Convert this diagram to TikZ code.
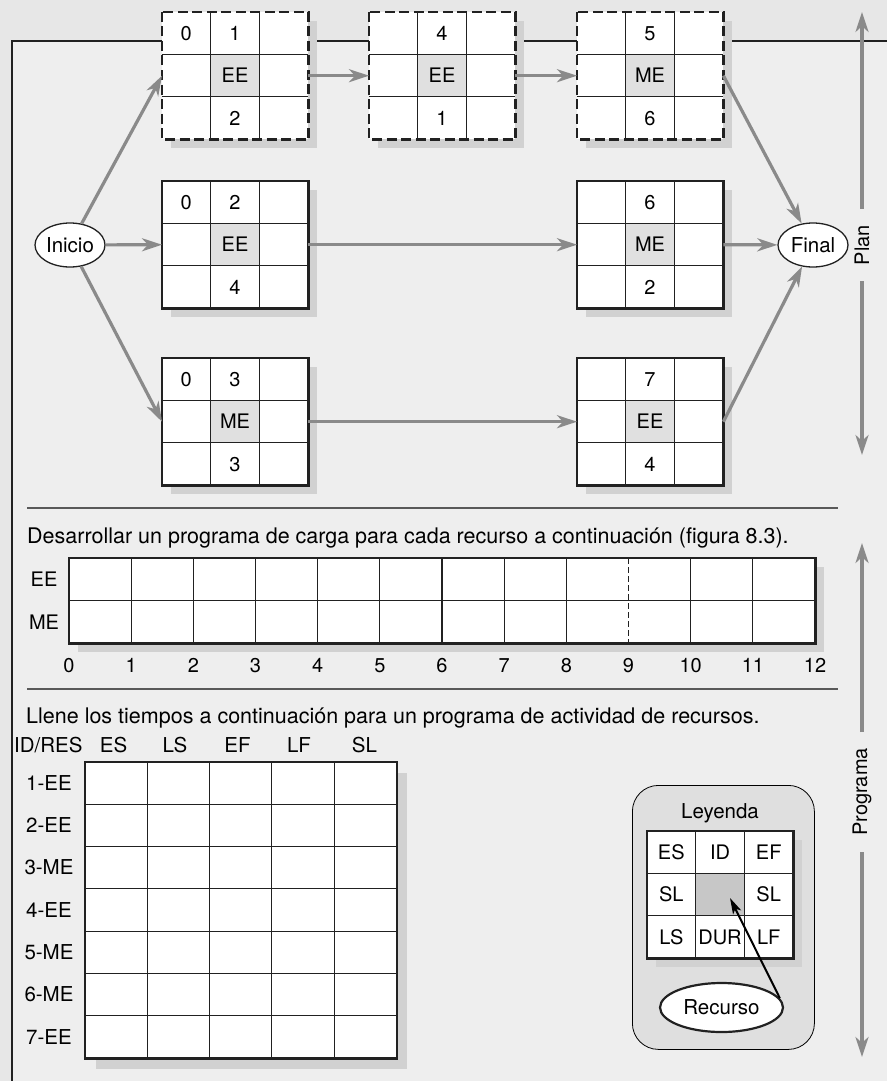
\documentclass[tikz,border=0pt]{standalone}
\usepackage{fontspec}
\setmainfont{TeX Gyre Heros}
\usetikzlibrary{arrows.meta,shapes.geometric}
\definecolor{bgout}{gray}{0.905}
\definecolor{bgin}{gray}{0.935}
\definecolor{arrc}{gray}{0.54}
\definecolor{shadc}{gray}{0.82}
\definecolor{cellc}{gray}{0.88}
\definecolor{legc}{gray}{0.875}
\definecolor{legmidc}{gray}{0.78}
\definecolor{inkc}{gray}{0.13}
\definecolor{sepc}{gray}{0.35}
\tikzset{
 lab/.style={font=\fontsize{20}{24}\selectfont, inner sep=0pt, text height=14.4pt, text depth=0pt},
 freetext/.style={font=\fontsize{21.5}{25}\selectfont, inner sep=0pt, anchor=base west},
 boxbg/.style={fill=white, minimum width=146, minimum height=127, inner sep=0pt, draw=none},
 gridl/.style={draw=inkc, line width=1.1},
 outsolid/.style={draw=inkc, line width=2.6},
 outdash/.style={draw=inkc, line width=2.6, dash pattern=on 10pt off 4.5pt},
 conn/.style={draw=arrc, line width=3.2, -{Stealth[length=20pt,width=13pt,inset=6pt]}},
 endnode/.style={ellipse, draw=inkc, fill=white, line width=1.3, minimum width=70, minimum height=44, inner sep=0pt, font=\fontsize{20.5}{24}\selectfont},
 sidelab/.style={rotate=90, inner xsep=16pt, inner ysep=2pt, font=\fontsize{20}{24}\selectfont},
}
% #1 name, #2 x, #3 y, #4 top-left, #5 top-mid, #6 centre, #7 bottom-mid, #8 border style
\newcommand\actbox[8]{%
 \fill[shadc] (#2+9,#3+9) rectangle (#2+155,#3+136);
 \node[boxbg, anchor=north west] (#1) at (#2,#3) {};
 \fill[cellc] (#2+48.7,#3+42.3) rectangle (#2+97.3,#3+84.7);
 \draw[gridl] (#2+48.7,#3) -- (#2+48.7,#3+127) (#2+97.3,#3) -- (#2+97.3,#3+127)
   (#2,#3+42.3) -- (#2+146,#3+42.3) (#2,#3+84.7) -- (#2+146,#3+84.7);
 \draw[#8] (#1.north west) rectangle (#1.south east);
 \node[lab] (#1tl) at (#2+24.3,#3+21.2) {#4};
 \node[lab] (#1tm) at (#2+73,#3+21.2) {#5};
 \node[lab] (#1c) at (#2+73,#3+63.5) {#6};
 \node[lab] (#1bm) at (#2+73,#3+105.8) {#7};
}
\begin{document}
\begin{tikzpicture}[x=1pt,y=-1pt]
\useasboundingbox (0,0) rectangle (887,1081);
\fill[bgout] (0,0) rectangle (887,1081);
\fill[bgin] (12,41) rectangle (887,1081);
\draw[inkc, line width=2.3] (12,1081) -- (12,41) -- (887,41);

% activity boxes
\actbox{ba}{162}{12}{0}{1}{EE}{2}{outdash}
\actbox{bb}{369}{12}{}{4}{EE}{1}{outdash}
\actbox{bc}{577}{12}{}{5}{ME}{6}{outdash}
\actbox{ma}{162}{181}{0}{2}{EE}{4}{outsolid}
\actbox{mb}{577}{181}{}{6}{ME}{2}{outsolid}
\actbox{la}{162}{358}{0}{3}{ME}{3}{outsolid}
\actbox{lb}{577}{358}{}{7}{EE}{4}{outsolid}

\node[endnode] (ini) at (70,245) {Inicio};
\node[endnode] (fin) at (813,245) {Final};

\draw[conn] (ini) -- (ba.west);
\draw[conn] (ini) -- (ma.west);
\draw[conn] (ini) -- (la.west);
\draw[conn] (ba.east) -- (bb.west);
\draw[conn] (bb.east) -- (bc.west);
\draw[conn] (ma.east) -- (mb.west);
\draw[conn] (la.east) -- (lb.west);
\draw[conn] (bc.east) -- (fin);
\draw[conn] (mb.east) -- (fin);
\draw[conn] (lb.east) -- (fin);

% side labels
\node[sidelab] (plan) at (862,245) {Plan};
\coordinate (planTop) at (862,12);
\coordinate (planBot) at (862,455);
\draw[conn] (plan.east) -- (planTop);
\draw[conn] (plan.west) -- (planBot);
\node[sidelab] (prog) at (862,792) {Programa};
\coordinate (progTop) at (862,543);
\coordinate (progBot) at (862,1057);
\draw[conn] (prog.east) -- (progTop);
\draw[conn] (prog.west) -- (progBot);

% separators
\draw[sepc, line width=1.3] (27,508) -- (838,508);
\draw[sepc, line width=1.3] (27,689) -- (838,689);

% load chart
\node[freetext] (t1) at (27,543) {Desarrollar un programa de carga para cada recurso a continuación (figura 8.3).};
\fill[shadc] (78,567) rectangle (824,652);
\node[fill=white, minimum width=746, minimum height=85, inner sep=0pt, anchor=north west] (chart) at (69,558) {};
\foreach \i in {1,...,8,10,11} \draw[gridl] (69+\i*62.17,558) -- (69+\i*62.17,643);
\draw[gridl, dash pattern=on 6pt off 3pt] (69+9*62.17,558) -- (69+9*62.17,643);
\draw[gridl] (69,600.5) -- (815,600.5);
\draw[outsolid] (chart.north west) rectangle (chart.south east);
\node[lab] (chee) at (44,579.3) {EE};
\node[lab] (chme) at (44,621.8) {ME};
\foreach \i in {0,...,12} \node[lab] (ax\i) at (69+\i*62.17,665) {\i};

% activity table
\node[freetext] (t2) at (26,723.3) {Llene los tiempos a continuación para un programa de actividad de recursos.};
\node[lab, anchor=base west, font=\fontsize{20.5}{24}\selectfont] (hid) at (14,752.7) {ID/RES};
\node[lab, anchor=base, font=\fontsize{20.5}{24}\selectfont] (hes) at (113.5,752.7) {ES};
\node[lab, anchor=base, font=\fontsize{20.5}{24}\selectfont] (hls) at (175,752.7) {LS};
\node[lab, anchor=base, font=\fontsize{20.5}{24}\selectfont] (hef) at (237.5,752.7) {EF};
\node[lab, anchor=base, font=\fontsize{20.5}{24}\selectfont] (hlf) at (299,752.7) {LF};
\node[lab, anchor=base, font=\fontsize{20.5}{24}\selectfont] (hsl) at (364.5,752.7) {SL};
\fill[shadc] (96,773) rectangle (407,1069);
\node[fill=white, minimum width=311.5, minimum height=296, inner sep=0pt, anchor=north west] (tbl) at (85,762) {};
\foreach \i in {1,...,4} \draw[gridl] (85+\i*62.3,762) -- (85+\i*62.3,1058);
\foreach \j in {1,...,6} \draw[gridl] (85,762+\j*42.29) -- (396.5,762+\j*42.29);
\draw[outsolid] (tbl.north west) rectangle (tbl.south east);
\foreach \j/\t in {1/1-EE,2/2-EE,3/3-ME,4/4-EE,5/5-ME,6/6-ME,7/7-EE}
  \node[lab, font=\fontsize{20.5}{24}\selectfont] (row\j) at (49,762+\j*42.29-21.15) {\t};

% legend
\node[draw=black, line width=0.8, fill=legc, rounded corners=26pt, minimum width=182, minimum height=264, inner sep=0pt, anchor=north west] (legbox) at (632,785) {};
\node[lab, font=\fontsize{20.5}{24}\selectfont] (legtitle) at (720,811) {Leyenda};
\fill[shadc] (656,840) rectangle (802,967);
\node[boxbg, anchor=north west] (leg) at (647,831) {};
\fill[legmidc] (695.7,873.3) rectangle (744.3,915.7);
\draw[gridl] (695.7,831) -- (695.7,958) (744.3,831) -- (744.3,958) (647,873.3) -- (793,873.3) (647,915.7) -- (793,915.7);
\draw[outsolid] (leg.north west) rectangle (leg.south east);
\node[lab] (l11) at (671.3,852.2) {ES};
\node[lab] (l12) at (720,852.2) {ID};
\node[lab] (l13) at (768.7,852.2) {EF};
\node[lab] (l21) at (671.3,894.5) {SL};
\node[lab] (l23) at (768.7,894.5) {SL};
\node[lab] (l31) at (671.3,936.8) {LS};
\node[lab] (l32) at (720,936.8) {DUR};
\node[lab] (l33) at (768.7,936.8) {LF};
\node[endnode, minimum width=123, minimum height=49, line width=2.2] (rec) at (721.5,1007.5) {Recurso};
\coordinate (legtip) at (730,898);
\draw[draw=black, line width=2, -{Stealth[length=16pt,width=9pt,inset=4pt]}] (rec.9) -- (legtip);
\end{tikzpicture}
\end{document}
